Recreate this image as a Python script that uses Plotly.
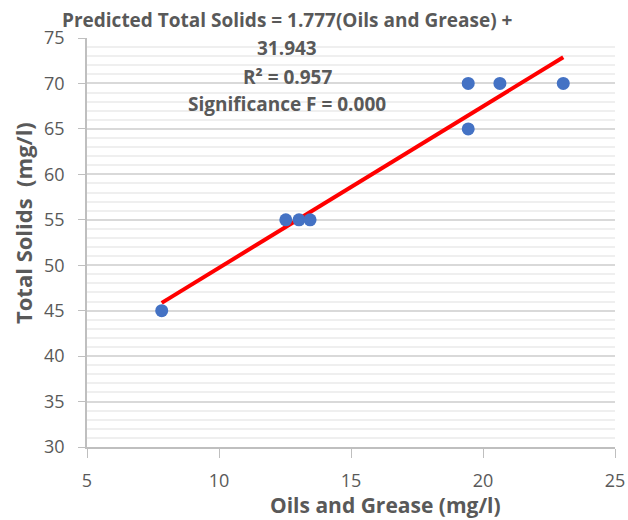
import plotly.graph_objects as go

# Data
oils_grease = [7.83, 12.53, 13.03, 13.45, 19.44, 19.44, 20.64, 23.04]
total_solids = [45, 55, 55, 55, 70, 65, 70, 70]
slope = 1.777
intercept = 31.943
annotation_lines = [
    "Predicted Total Solids = 1.777(Oils and Grease) +",
    "31.943",
    "R² = 0.957",
    "Significance F = 0.000",
]
x_title = "Oils and Grease (mg/l)"
y_title = "Total Solids\u00a0\u00a0(mg/l)"

FONT = "Open Sans"
GRAY = "#595959"

x_line = [min(oils_grease), max(oils_grease)]
y_line = [slope * v + intercept for v in x_line]

fig = go.Figure()
fig.add_trace(go.Scatter(
    x=x_line, y=y_line, mode="lines",
    line=dict(color="#FF0000", width=4), showlegend=False, hoverinfo="skip"))
fig.add_trace(go.Scatter(
    x=oils_grease, y=total_solids, mode="markers",
    marker=dict(color="#4472C4", size=13), showlegend=False))

L, R, T, B = 87, 13, 38, 73
W, H = 628, 520
pw, ph = W - L - R, H - T - B


def px_x(px):
    return (px - L) / pw


def px_y(py):
    return (H - B - py) / ph


line_y_px = [20, 48, 77, 104]
cx_px = 287
for txt, py in zip(annotation_lines, line_y_px):
    fig.add_annotation(
        text=f"<b>{txt}</b>", xref="paper", yref="paper",
        x=px_x(cx_px), y=px_y(py),
        xanchor="center", yanchor="middle", showarrow=False,
        font=dict(family=FONT, size=19, color=GRAY))

# axis titles
fig.add_annotation(
    text=f"<b>{x_title}</b>", xref="paper", yref="paper",
    x=px_x(385), y=px_y(505), xanchor="center", yanchor="middle", showarrow=False,
    font=dict(family=FONT, size=21, color=GRAY))
fig.add_annotation(
    text=f"<b>{y_title}</b>", xref="paper", yref="paper", textangle=-90,
    x=px_x(23), y=px_y(223), xanchor="center", yanchor="middle", showarrow=False,
    font=dict(family=FONT, size=22, color=GRAY))

fig.update_layout(
    width=W, height=H,
    margin=dict(l=L, r=R, t=T, b=B),
    plot_bgcolor="white", paper_bgcolor="white",
    font=dict(family=FONT, color=GRAY),
    xaxis=dict(
        range=[5, 25], dtick=5, tick0=5, showgrid=False, zeroline=False,
        showline=True, linecolor="#BFBFBF", linewidth=1.5, automargin=False,
        ticks="outside", ticklen=9, tickcolor="#BFBFBF",
        ticklabelstandoff=8,
        tickfont=dict(size=18, color=GRAY),
    ),
    yaxis=dict(
        range=[30, 75], dtick=5, tick0=30, showgrid=True, gridcolor="#D9D9D9", gridwidth=1.5,
        zeroline=False, showline=True, linecolor="#BFBFBF", linewidth=1.5, automargin=False,
        ticks="outside", ticklen=7, tickcolor="#BFBFBF",
        ticklabelstandoff=10,
        tickfont=dict(size=18, color=GRAY),
        minor=dict(dtick=1, showgrid=True, gridcolor="#EFEFEF", gridwidth=1.5),
    ),
)

fig.write_html("out.html")
